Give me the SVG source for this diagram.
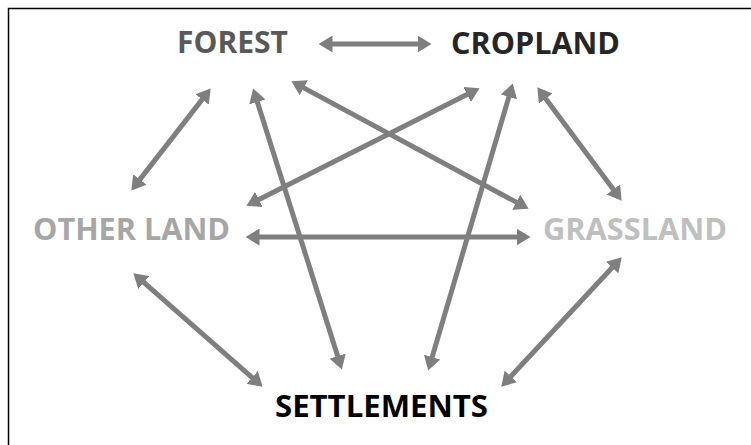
<svg xmlns="http://www.w3.org/2000/svg" width="751" height="445" viewBox="0 0 751 445">
<style>
.lbl{font-family:"Open Sans",Lato,"Liberation Sans",sans-serif;font-weight:bold;font-size:30px}
.con{stroke:#7f7f7f;stroke-width:5;fill:none;marker-start:url(#ah);marker-end:url(#ah)}
.frame{stroke:#000;stroke-width:1.5;fill:none}
</style>
<defs>
<marker id="ah" markerUnits="userSpaceOnUse" viewBox="0 0 14 17" markerWidth="14" markerHeight="17" refX="0.5" refY="8.5" orient="auto-start-reverse">
<path d="M0,0 L14,8.5 L0,17 z" fill="#7f7f7f"/>
</marker>
</defs>
<rect width="751" height="445" fill="#fff"/>
<path class="frame" d="M8.5,445 V8.5 H751"/>
<g id="connectors">
<line class="con" x1="332" y1="44" x2="418" y2="44"/>
<line class="con" x1="202.4" y1="99.1" x2="139.6" y2="179.9"/>
<line class="con" x1="257.2" y1="101.4" x2="337.8" y2="356.6"/>
<line class="con" x1="303.3" y1="87.6" x2="516.7" y2="202.4"/>
<line class="con" x1="467.5" y1="94.3" x2="258.5" y2="199.7"/>
<line class="con" x1="509" y1="96.4" x2="432" y2="357.6"/>
<line class="con" x1="545.4" y1="98.2" x2="613.6" y2="189.8"/>
<line class="con" x1="259" y1="237" x2="517" y2="237"/>
<line class="con" x1="143.5" y1="282.2" x2="252.5" y2="377.8"/>
<line class="con" x1="612.5" y1="267.2" x2="510.5" y2="376.8"/>
</g>
<g id="forest"><text class="lbl" x="177" y="53" fill="#595959" textLength="111" lengthAdjust="spacingAndGlyphs">FOREST</text></g>
<g id="cropland"><text class="lbl" x="451" y="54" fill="#262626" textLength="169" lengthAdjust="spacingAndGlyphs">CROPLAND</text></g>
<g id="other-land"><text class="lbl" x="33" y="240" fill="#a6a6a6" textLength="197" lengthAdjust="spacingAndGlyphs">OTHER LAND</text></g>
<g id="grassland"><text class="lbl" x="543" y="240" fill="#bfbfbf" textLength="184" lengthAdjust="spacingAndGlyphs">GRASSLAND</text></g>
<g id="settlements"><text class="lbl" x="275" y="417" fill="#000" textLength="213" lengthAdjust="spacingAndGlyphs">SETTLEMENTS</text></g>
</svg>
